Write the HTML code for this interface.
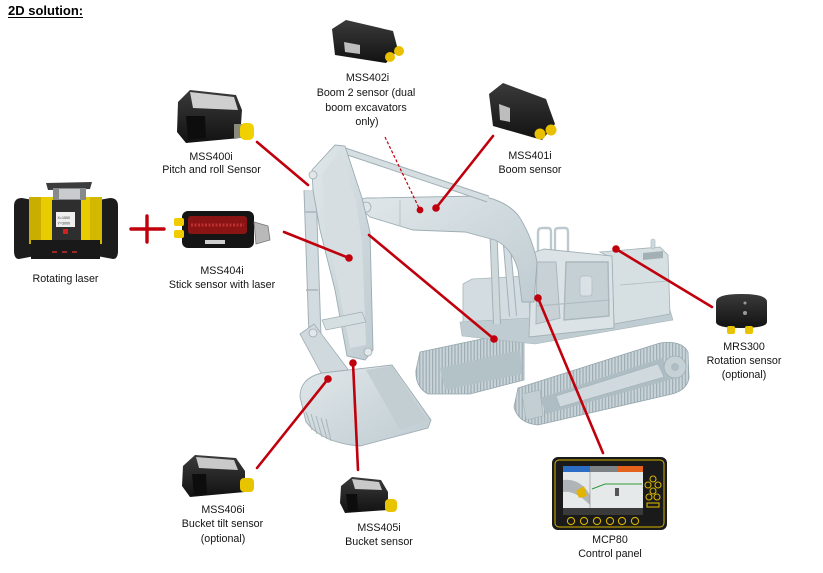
<!DOCTYPE html>
<html><head><meta charset="utf-8">
<style>
html,body{margin:0;padding:0;background:#fff;}
svg{display:block;}
text{font-family:"Liberation Sans",Arial,sans-serif;font-size:10.7px;fill:#141414;}
</style></head><body>
<svg width="823" height="573" viewBox="0 0 823 573" xmlns="http://www.w3.org/2000/svg">
<defs>
<pattern id="tread" width="3.2" height="8" patternUnits="userSpaceOnUse">
<rect width="3.2" height="8" fill="#c9d4d8"/><rect width="1.2" height="8" fill="#9dadb3"/></pattern>
<linearGradient id="blk" x1="0" y1="0" x2="0" y2="1"><stop offset="0" stop-color="#3a3a3a"/><stop offset="1" stop-color="#121212"/></linearGradient>
<linearGradient id="exc" x1="0" y1="0" x2="1" y2="1"><stop offset="0" stop-color="#e0e7ea"/><stop offset="1" stop-color="#bfccd1"/></linearGradient>
</defs>

<!-- Title -->
<text x="8" y="15" style="font-size:13px;font-weight:bold;fill:#000">2D solution:</text>
<line x1="8" y1="17.5" x2="83" y2="17.5" stroke="#000" stroke-width="1.1"/>

<!-- ===== Excavator ===== -->
<!-- back track -->
<path d="M420,352 L505,334 L524,338 L524,380 L470,394 L428,394 Q415,387 416,370 Z" fill="url(#tread)" stroke="#95a6ad" stroke-width="0.8"/>
<path d="M440,368 L520,350 L522,374 L445,390 Z" fill="#b3c2c7"/>
<!-- left engine box -->
<path d="M463,284 L472,279 L528,276 L530,320 L463,324 Z" fill="#d3dde1" stroke="#a7b6bb" stroke-width="0.8"/>
<!-- deck -->
<path d="M460,322 L530,318 L670,310 L673,320 L535,344 L462,336 Z" fill="#bfccd1" stroke="#a7b6bb" stroke-width="0.6"/>
<!-- right house -->
<path d="M600,252 L660,247 L668,255 L670,314 L614,324 L612,258 Z" fill="#d6dfe2" stroke="#a2b1b7" stroke-width="0.8"/>
<path d="M643,253 L663,251 L663,258 L643,260 Z" fill="#a3b1b6"/>
<rect x="651" y="239" width="4" height="10" rx="2" fill="#cfd9dc" stroke="#a7b6bb" stroke-width="0.6"/>
<path d="M620,285 L668,281" stroke="#aebcc1" stroke-width="0.8"/>
<!-- cab rails -->
<path d="M538,253 L538,232 Q538,228 542,228 L548,228 Q551,228 551,232 L551,252 M555,252 L555,231 Q555,228 559,228 L565,228 Q568,228 568,232 L568,253" fill="none" stroke="#bccad0" stroke-width="2.4"/>
<!-- cab -->
<path d="M532,253 L544,249 L612,256 L614,328 L529,337 Z" fill="#dce3e6" stroke="#a2b1b7" stroke-width="0.9"/>
<path d="M537,262 L556,262 L560,318 L536,324 Z" fill="#c8d2d6" stroke="#a9b7bc" stroke-width="1"/>
<path d="M566,262 L608,262 L609,316 L564,320 Z" fill="#c5d0d4" stroke="#a9b7bc" stroke-width="1.4"/>
<rect x="580" y="276" width="12" height="20" rx="3" fill="#dbe2e5" stroke="#aebcc1" stroke-width="0.7"/>
<path d="M536,306 L610,300" stroke="#b0bdc2" stroke-width="1.2"/>
<!-- front track -->
<path d="M518,388 L660,343 Q682,340 688,352 L689,378 Q687,390 672,394 L538,425 Q518,423 514,407 Z" fill="url(#tread)" stroke="#95a6ad" stroke-width="0.8"/>
<path d="M540,398 L662,358 L676,378 L546,414 Z" fill="#aebdc3"/>
<path d="M556,396 L658,364 L664,377 L560,407 Z" fill="#d0d9dd" stroke="#a2b1b7" stroke-width="0.6"/>
<circle cx="675" cy="367" r="11" fill="#c6d1d5" stroke="#9dadb3" stroke-width="0.8"/>
<circle cx="675" cy="367" r="4" fill="#aebdc3"/>
<path d="M522,394 L540,390 L543,416 L526,420 Z" fill="#c3ced2" stroke="#a2b1b7" stroke-width="0.6"/>
<!-- boom lower cylinders -->
<line x1="493" y1="222" x2="497" y2="324" stroke="#a2b1b7" stroke-width="8"/>
<line x1="493" y1="222" x2="497" y2="324" stroke="#cfd9dc" stroke-width="6"/>
<line x1="505" y1="222" x2="513" y2="316" stroke="#a2b1b7" stroke-width="8"/>
<line x1="505" y1="222" x2="513" y2="316" stroke="#d3dce0" stroke-width="6"/>
<!-- boom -->
<path d="M358,206 Q359,197 370,198 L480,196 Q505,200 518,215 Q532,236 537,262 L534,302 L522,302 L518,270 Q512,248 495,240 L465,232 L413,230 L370,217 Z" fill="url(#exc)" stroke="#9dadb3" stroke-width="0.9"/>
<path d="M400,200 L400,226" stroke="#b0bdc2" stroke-width="0.8"/>
<circle cx="366" cy="207" r="5" fill="#dfe6e8" stroke="#9dadb3" stroke-width="0.8"/>
<!-- top boom cylinder rod -->
<line x1="345" y1="151" x2="488" y2="199" stroke="#a2b1b7" stroke-width="7"/>
<line x1="345" y1="151" x2="488" y2="199" stroke="#d5dee1" stroke-width="5"/>
<!-- stick cylinder -->
<line x1="310" y1="190" x2="315" y2="336" stroke="#a2b1b7" stroke-width="13"/>
<line x1="310" y1="190" x2="315" y2="336" stroke="#d2dbdf" stroke-width="11"/>
<line x1="305" y1="212" x2="316" y2="212" stroke="#a7b5ba" stroke-width="1.5"/>
<line x1="306" y1="290" x2="318" y2="290" stroke="#a7b5ba" stroke-width="1.5"/>
<!-- stick -->
<path d="M312,170 L335,145 L345,146 L362,198 L370,232 L373,350 L365,360 L347,356 L335,290 L320,230 L313,190 Z" fill="url(#exc)" stroke="#9badb3" stroke-width="0.9"/>
<path d="M322,175 L340,152 L356,202 L362,242 L366,345 L350,348 L338,285 L325,225 Z" fill="#d6dee2"/>
<circle cx="313" cy="175" r="4" fill="#e1e7e9" stroke="#9dadb3" stroke-width="0.8"/>
<!-- linkage -->
<path d="M300,334 L314,324 L350,372 L339,388 L328,386 Z" fill="#d0d9dd" stroke="#9dadb3" stroke-width="0.8"/>
<path d="M322,320 L362,312 L366,322 L326,330 Z" fill="#d5dee1" stroke="#9dadb3" stroke-width="0.7"/>
<circle cx="313" cy="333" r="4" fill="#e3e9eb" stroke="#9dadb3" stroke-width="0.8"/>
<circle cx="342" cy="380" r="4" fill="#e3e9eb" stroke="#9dadb3" stroke-width="0.8"/>
<circle cx="368" cy="352" r="4" fill="#e3e9eb" stroke="#9dadb3" stroke-width="0.8"/>
<!-- bucket -->
<path d="M300,397 Q300,378 322,373 L392,365 L431,420 L428,428 L360,446 Q322,443 306,422 Z" fill="url(#exc)" stroke="#9dadb3" stroke-width="0.9"/>
<path d="M366,370 L392,366 L428,421 L400,430 Z" fill="#c3ced3"/>
<path d="M306,412 L312,430 M311,414 L317,434 M316,416 L322,437 M321,418 L327,439 M326,419 L331,441" stroke="#a7b5ba" stroke-width="1"/>

<!-- ===== Red connectors ===== -->
<g stroke="#c0000c" stroke-width="2.6" fill="none" stroke-linecap="round">
<line x1="257" y1="142" x2="308" y2="185"/>
<line x1="284" y1="232" x2="349" y2="258"/>
<line x1="493" y1="136" x2="436" y2="208"/>
<line x1="369" y1="235" x2="494" y2="339"/>
<line x1="616" y1="249" x2="712" y2="307"/>
<line x1="538" y1="298" x2="603" y2="453"/>
<line x1="328" y1="379" x2="257" y2="468"/>
<line x1="353" y1="363" x2="358" y2="470"/>
<line x1="131" y1="229" x2="164" y2="229" stroke-width="3.4"/>
<line x1="147" y1="216" x2="147" y2="242" stroke-width="3.4"/>
</g>
<line x1="385" y1="137" x2="420" y2="210" stroke="#c0000c" stroke-width="1.2" stroke-dasharray="3,2"/>
<g fill="#c0000c">
<circle cx="349" cy="258" r="3.8"/><circle cx="436" cy="208" r="3.8"/><circle cx="420" cy="210" r="3.4"/>
<circle cx="494" cy="339" r="3.8"/><circle cx="616" cy="249" r="3.8"/><circle cx="538" cy="298" r="3.8"/>
<circle cx="328" cy="379" r="3.8"/><circle cx="353" cy="363" r="3.8"/>
</g>

<!-- ===== Rotating laser ===== -->
<path d="M14,206 Q14,198 22,198 L33,200 L35,256 L19,259 Q14,259 14,251 Z" fill="#1c1c1c"/>
<path d="M118,206 Q118,198 110,198 L99,200 L97,256 L113,259 Q118,259 118,251 Z" fill="#1c1c1c"/>
<rect x="29" y="197" width="73" height="47" rx="3" fill="#e8cc00"/>
<rect x="29" y="197" width="12" height="47" fill="#c9ae00"/>
<rect x="90" y="197" width="12" height="47" fill="#d3b800"/>
<path d="M46,183 L92,182 L90,189 L48,190 Z" fill="#3c3c3c"/>
<rect x="53" y="188" width="33" height="12" fill="#878a8d"/>
<rect x="59" y="189" width="21" height="10" fill="#c9cbcc"/>
<rect x="52" y="200" width="29" height="42" fill="#2e2e2e"/>
<rect x="56" y="212" width="19" height="15" fill="#eeeeee"/>
<text x="57.5" y="219" style="font-size:3.6px;fill:#333">X=1500</text>
<text x="57.5" y="224.5" style="font-size:3.6px;fill:#333">Y=3000</text>
<rect x="63" y="229" width="5" height="5" fill="#d02020"/>
<rect x="31" y="240" width="69" height="19" fill="#191919"/>
<path d="M52,252 L57,252 M62,252 L67,252 M72,252 L77,252" stroke="#c03030" stroke-width="1.4"/>
<text x="65.5" y="282" text-anchor="middle">Rotating laser</text>

<!-- ===== MSS400i ===== -->
<path d="M178,102 L190,90 L236,95 L242,110 L240,138 L186,143 L177,132 Z" fill="url(#blk)"/>
<path d="M190,92 L234,97 L238,110 L193,108 Z" fill="#cfcfcf"/>
<path d="M186,116 L205,116 L206,138 L188,140 Z" fill="#0d0d0d"/>
<rect x="234" y="124" width="8" height="14" fill="#8a8a7a"/>
<rect x="240" y="123" width="14" height="17" rx="5" fill="#f1d000"/>
<text x="211" y="160" text-anchor="middle">MSS400i</text>
<text x="211.5" y="173" text-anchor="middle">Pitch and roll Sensor</text>

<!-- ===== MSS404i ===== -->
<rect x="182" y="211" width="72" height="37" rx="6" fill="#151515"/>
<rect x="188" y="216" width="59" height="18" rx="3" fill="#8a1414"/>
<path d="M191,225 L244,225" stroke="#c03030" stroke-width="3" stroke-dasharray="2,1.5"/>
<rect x="205" y="240" width="20" height="4" fill="#cfcfcf"/>
<rect x="174" y="218" width="10" height="8" rx="2" fill="#f0cc00"/>
<rect x="174" y="230" width="10" height="8" rx="2" fill="#f0cc00"/>
<path d="M254,222 L268,226 L270,240 L256,244 Z" fill="#b9b9b9" stroke="#777" stroke-width="0.8"/>
<text x="222" y="274" text-anchor="middle">MSS404i</text>
<text x="222" y="288" text-anchor="middle">Stick sensor with laser</text>

<!-- ===== MSS402i ===== -->
<path d="M332,29 L346,20 L393,31 L398,50 L386,63 L335,55 Z" fill="url(#blk)"/>
<path d="M344,42 L360,45 L360,54 L345,52 Z" fill="#bdbdbd"/>
<circle cx="390" cy="57" r="5" fill="#e8c000"/>
<circle cx="399" cy="51" r="5" fill="#e8c000"/>
<text x="367.5" y="81" text-anchor="middle">MSS402i</text>
<text x="366" y="96" text-anchor="middle">Boom 2 sensor (dual</text>
<text x="366" y="111" text-anchor="middle">boom excavators</text>
<text x="367" y="125" text-anchor="middle">only)</text>

<!-- ===== MSS401i ===== -->
<path d="M489,94 L503,83 L546,99 L555,124 L542,140 L493,126 Z" fill="url(#blk)"/>
<path d="M499,104 L510,108 L510,122 L500,120 Z" fill="#bdbdbd"/>
<circle cx="540" cy="134" r="5.5" fill="#e8c000"/>
<circle cx="551" cy="130" r="5.5" fill="#e8c000"/>
<text x="530" y="159" text-anchor="middle">MSS401i</text>
<text x="530" y="173" text-anchor="middle">Boom sensor</text>

<!-- ===== MRS300 ===== -->
<path d="M716,302 Q716,294 741,294 Q767,294 767,302 L767,322 Q767,328 741,328 Q716,328 716,322 Z" fill="url(#blk)"/>
<circle cx="745" cy="303" r="1.5" fill="#999"/><circle cx="745" cy="313" r="2" fill="#999"/>
<rect x="727" y="326" width="8" height="8" rx="2" fill="#e8c400"/>
<rect x="745" y="326" width="8" height="8" rx="2" fill="#e8c400"/>
<text x="744" y="350" text-anchor="middle">MRS300</text>
<text x="744" y="364" text-anchor="middle">Rotation sensor</text>
<text x="744" y="378" text-anchor="middle">(optional)</text>

<!-- ===== MCP80 ===== -->
<rect x="552" y="457" width="115" height="73" rx="6" fill="#1a1a1a"/>
<rect x="555" y="460" width="109" height="67" rx="4" fill="none" stroke="#d6b200" stroke-width="1"/>
<rect x="563" y="466" width="80" height="49" fill="#e6e9ea"/>
<rect x="563" y="466" width="27" height="6" fill="#2b6cc4"/>
<rect x="590" y="466" width="27" height="6" fill="#7d8285"/>
<rect x="617" y="466" width="26" height="6" fill="#e4621b"/>
<path d="M563,480 Q580,478 590,495 L590,505 Q575,490 563,492 Z" fill="#aeb4b7"/>
<path d="M576,491 L584,486 L587,496 L579,498 Z" fill="#e2b400"/>
<line x1="590" y1="472" x2="590" y2="508" stroke="#888" stroke-width="0.6"/>
<path d="M592,489 L605,484 L642,484" stroke="#2e9a3a" stroke-width="1" fill="none"/>
<rect x="615" y="488" width="4" height="8" fill="#555"/>
<rect x="563" y="508" width="80" height="7" fill="#3a3a3a"/>
<g fill="none" stroke="#d6b200" stroke-width="1.1">
<circle cx="571" cy="521" r="3.6"/><circle cx="584" cy="521" r="3.6"/><circle cx="597" cy="521" r="3.6"/>
<circle cx="610" cy="521" r="3.6"/><circle cx="622" cy="521" r="3.6"/><circle cx="635" cy="521" r="3.6"/>
<circle cx="653" cy="479" r="3"/><circle cx="648" cy="485" r="3"/><circle cx="658" cy="485" r="3"/><circle cx="653" cy="491" r="3"/>
<circle cx="649" cy="497" r="3"/><circle cx="657" cy="497" r="3"/>
<rect x="647" y="503" width="12" height="4"/>
</g>
<text x="610" y="543" text-anchor="middle">MCP80</text>
<text x="610" y="557" text-anchor="middle">Control panel</text>

<!-- ===== MSS406i ===== -->
<path d="M183,466 L195,455 L236,458 L245,471 L245,492 L190,497 L182,486 Z" fill="url(#blk)"/>
<path d="M196,457 L234,460 L238,470 L199,468 Z" fill="#c9c9c9"/>
<path d="M192,474 L206,474 L207,494 L194,495 Z" fill="#0d0d0d"/>
<rect x="240" y="478" width="14" height="14" rx="4" fill="#e8c400"/>
<text x="223" y="513" text-anchor="middle">MSS406i</text>
<text x="222.5" y="527" text-anchor="middle">Bucket tilt sensor</text>
<text x="223" y="542" text-anchor="middle">(optional)</text>

<!-- ===== MSS405i ===== -->
<path d="M341,486 L352,477 L381,480 L388,492 L388,510 L345,513 L340,503 Z" fill="url(#blk)"/>
<path d="M352,479 L379,482 L382,490 L355,489 Z" fill="#c9c9c9"/>
<path d="M346,494 L357,494 L358,511 L348,512 Z" fill="#0d0d0d"/>
<rect x="385" y="499" width="12" height="13" rx="4" fill="#e8c400"/>
<text x="379" y="531" text-anchor="middle">MSS405i</text>
<text x="379" y="545" text-anchor="middle">Bucket sensor</text>
</svg>
</body></html>
